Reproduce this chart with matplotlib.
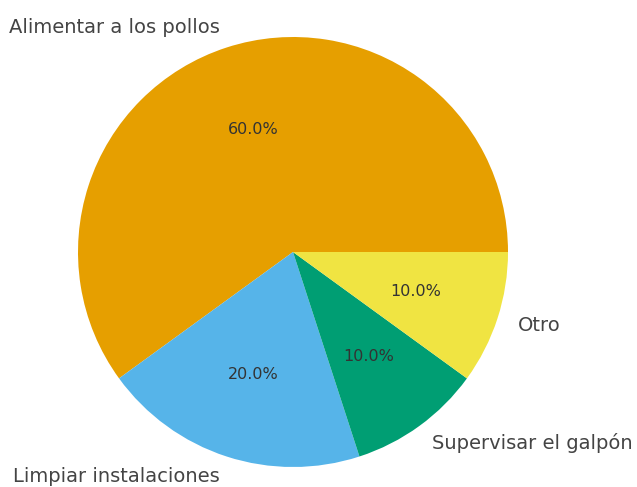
import matplotlib
matplotlib.use("Agg")
import matplotlib.pyplot as plt

plt.rcParams["font.family"] = ["DejaVu Sans"]

categories = ["Alimentar a los pollos", "Limpiar instalaciones",
              "Supervisar el galpón", "Otro"]
shares = [60, 20, 10, 10]
colors = ["#E69F00", "#56B4E9", "#009E73", "#F0E442"]

fig = plt.figure(figsize=(6.37, 4.87), dpi=100)
ax = fig.add_axes([0, 0, 1, 1])

wedges, texts, autotexts = ax.pie(
    shares, labels=categories, colors=colors, autopct="%1.1f%%",
    textprops={"fontsize": 14, "color": "#444444"},
)
for t in autotexts:
    t.set_color("#333333")
    t.set_fontsize(11.5)

# place the pie: centre and radius in pixels
cx, cy, r = 293, 235, 215
ax.set_xlim(-cx / r, (637 - cx) / r)
ax.set_ylim(-cy / r, (487 - cy) / r)
ax.set_aspect("auto")
ax.axis("off")

fig.savefig("out.png", dpi=100)
